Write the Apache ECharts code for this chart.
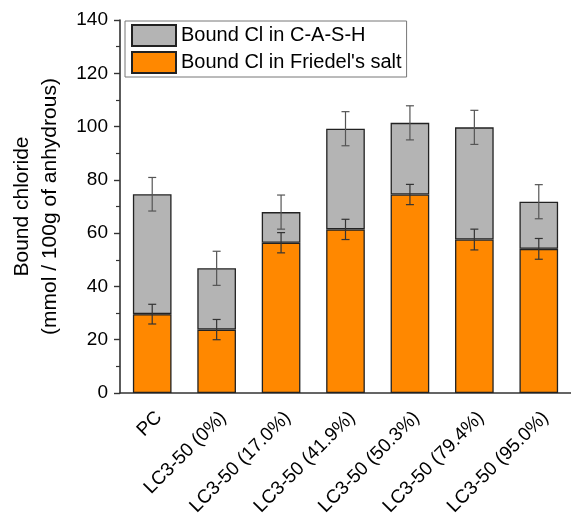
<!DOCTYPE html>
<html>
<head>
<meta charset="utf-8">
<script src="https://cdn.jsdelivr.net/npm/echarts@6/dist/echarts.min.js"></script>
<style>
  html, body { margin: 0; padding: 0; background: #fff; }
  #chart { width: 571px; height: 522px; }
</style>
</head>
<body>
<div id="chart"></div>
<script>
// Mixes and their bound chloride split (mmol / 100 g of anhydrous binder)
const categories = ['PC', 'LC3-50 (0%)', 'LC3-50 (17.0%)', 'LC3-50 (41.9%)',
                    'LC3-50 (50.3%)', 'LC3-50 (79.4%)', 'LC3-50 (95.0%)'];
const friedelSalt = [29.6, 23.8, 56.4, 61.4, 74.5, 57.6, 54.1];
const cashPhase   = [45.0, 23.0, 11.5, 37.8, 26.9, 42.1, 17.7];
const friedelErr  = [3.7, 3.8, 3.8, 3.8, 3.8, 3.9, 3.9];
const totalErr    = [6.3, 6.4, 6.4, 6.4, 6.4, 6.4, 6.4];
const yTicks = { min: 0, max: 140, interval: 20 };

const FONT = "'Liberation Sans', Arial, sans-serif";
const NAME_CASH = 'Bound Cl in C-A-S-H';
const NAME_FS = "Bound Cl in Friedel's salt";

// error bar centres: Friedel's salt top, and stacked total
const fsErrData = friedelSalt.map((v, i) => [i, v, friedelErr[i]]);
const totErrData = friedelSalt.map((v, i) => [i, v + cashPhase[i], totalErr[i]]);

function errorBar(color) {
  return function (params, api) {
    const x = api.value(0), c = api.value(1), e = api.value(2);
    const top = api.coord([x, c + e]);
    const bot = api.coord([x, c - e]);
    const cap = 4;
    const style = { stroke: color, lineWidth: 1.2 };
    return {
      type: 'group',
      children: [
        { type: 'line', shape: { x1: top[0], y1: top[1], x2: bot[0], y2: bot[1] }, style },
        { type: 'line', shape: { x1: top[0] - cap, y1: top[1], x2: top[0] + cap, y2: top[1] }, style },
        { type: 'line', shape: { x1: bot[0] - cap, y1: bot[1], x2: bot[0] + cap, y2: bot[1] }, style }
      ]
    };
  };
}

const chart = echarts.init(document.getElementById('chart'), null, { renderer: 'canvas' });
chart.setOption({
  animation: false,
  backgroundColor: '#fff',
  textStyle: { fontFamily: FONT },
  grid: { left: 115, right: 0, top: 20, bottom: 129, containLabel: false },
  legend: {
    data: [NAME_CASH, NAME_FS],
    orient: 'vertical',
    left: 125,
    top: 21,
    icon: 'rect',
    itemWidth: 44,
    itemHeight: 21,
    itemGap: 4,
    padding: [3, 5, 3, 6],
    borderColor: '#777',
    borderWidth: 1,
    textStyle: { fontFamily: FONT, fontSize: 20, color: '#000' },
    selectedMode: false
  },
  xAxis: [
    {
      type: 'category',
      data: categories,
      position: 'bottom',
      axisLine: { lineStyle: { color: '#333', width: 1.6 } },
      axisTick: { alignWithLabel: true, length: 7, lineStyle: { color: '#333', width: 1.4 } },
      axisLabel: {
        rotate: 45, fontSize: 19, color: '#000', margin: 15, fontFamily: FONT,
        interval: 0, verticalAlign: 'top'
      }
    },
    {
      type: 'category',
      data: categories,
      position: 'bottom',
      axisLine: { show: false },
      axisTick: { length: 4, lineStyle: { color: '#333', width: 1.2 } },
      axisLabel: { show: false }
    }
  ],
  yAxis: {
    type: 'value',
    min: yTicks.min,
    max: yTicks.max,
    interval: yTicks.interval,
    name: 'Bound chloride\n(mmol / 100g of anhydrous)',
    nameLocation: 'middle',
    nameRotate: 90,
    nameGap: 56,
    nameTextStyle: { fontSize: 21, color: '#000', fontFamily: FONT, lineHeight: 28 },
    axisLine: { show: true, lineStyle: { color: '#333', width: 1.6 } },
    axisTick: { show: true, length: 6, lineStyle: { color: '#333', width: 1.4 } },
    minorTick: { show: true, splitNumber: 2, length: 4, lineStyle: { color: '#333', width: 1.2 } },
    splitLine: { show: false },
    axisLabel: { fontSize: 19, color: '#000', margin: 12, fontFamily: FONT }
  },
  series: [
    {
      name: NAME_FS,
      type: 'bar',
      stack: 'cl',
      data: friedelSalt,
      barWidth: '60%',
      itemStyle: { color: '#ff8800', borderColor: '#222', borderWidth: 1.3 }
    },
    {
      name: NAME_CASH,
      type: 'bar',
      stack: 'cl',
      data: cashPhase,
      barWidth: '60%',
      itemStyle: { color: '#b4b4b4', borderColor: '#222', borderWidth: 1.3 }
    },
    {
      type: 'custom',
      data: fsErrData,
      renderItem: errorBar('#333'),
      z: 10,
      silent: true
    },
    {
      type: 'custom',
      data: totErrData,
      renderItem: errorBar('#555'),
      z: 10,
      silent: true
    }
  ]
});
</script>
</body>
</html>
